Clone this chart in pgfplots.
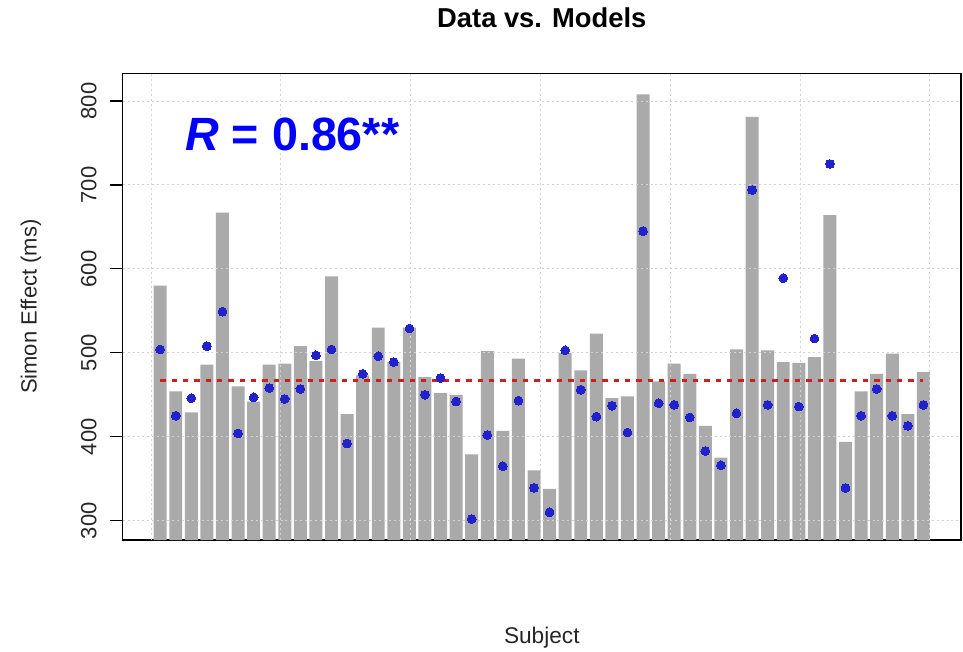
\documentclass[border=0pt]{standalone}
\usepackage{fontspec}
\setmainfont{Liberation Sans}
\usepackage{pgfplots}
\pgfplotsset{compat=1.18}
\usepackage{pgfplotstable}

\definecolor{barg}{HTML}{AAAAAA}
\definecolor{gridg}{HTML}{D3D3D3}
\definecolor{dotb}{HTML}{2222CC}
\definecolor{meanr}{HTML}{CC2020}

\pgfplotstableread{
x bar model
0.7 580 504
1.9 454 425
3.1 429 446
4.3 486 508
5.5 667 549
6.7 460 404
7.9 442 447
9.1 486 458
10.3 487 445
11.5 508 457
12.7 490 497
13.9 591 504
15.1 427 392
16.3 473 475
17.5 530 496
18.7 489 489
19.9 530 529
21.1 471 450
22.3 452 470
23.5 450 442
24.7 379 302
25.9 502 402
27.1 407 365
28.3 493 443
29.5 360 339
30.7 338 310
31.9 500 503
33.1 479 456
34.3 523 424
35.5 446 437
36.7 448 405
37.9 808 645
39.1 466 440
40.3 487 438
41.5 475 423
42.7 413 383
43.9 375 366
45.1 504 428
46.3 781 694
47.5 503 438
48.7 489 589
49.9 488 436
51.1 495 517
52.3 664 725
53.5 394 339
54.7 454 425
55.9 475 457
57.1 499 425
58.3 427 413
59.5 477 438
}\datatable

\begin{document}
\begin{tikzpicture}
\path[use as bounding box] (0,0) rectangle (722.25pt,488.25pt);
\begin{axis}[
  at={(92pt,83.25pt)}, anchor=south west,
  scale only axis, width=628.7pt, height=350pt,
  xmin=-2.19, xmax=62.39, ymin=277, ymax=833,
  xtick=\empty,
  ytick={300,400,500,600,700,800},
  ytick pos=left,
  tick align=outside,
  major tick length=9.4pt,
  axis line style={line width=1pt, black},
  ytick style={line width=0.9pt, black},
  /pgf/number format/assume math mode=true,
  yticklabel style={rotate=90, anchor=south, inner sep=0pt, yshift=10pt,
    font=\fontsize{16.5}{18}\selectfont, text=black!85},
  clip=true,
]
\addplot[ybar, bar width=1, fill=barg, draw=none] table[x=x, y=bar] {\datatable};
\pgfplotsinvokeforeach{300,400,500,600,700,800}{
  \draw[gridg, line width=0.75pt, dash pattern=on 1.5pt off 2.2pt] (axis cs:-2.19,#1) -- (axis cs:62.39,#1);
}
\pgfplotsinvokeforeach{0,10,20,30,40,50,60}{
  \draw[gridg, line width=0.75pt, dash pattern=on 1.5pt off 2.2pt] (axis cs:#1,277) -- (axis cs:#1,833);
}
\addplot[meanr, line width=2pt, dash pattern=on 4pt off 4.5pt] coordinates {(0.7,467) (59.5,467)};
\addplot[dotb, only marks, mark=*, mark size=3.3pt, mark options={fill=dotb, draw=dotb, line width=0pt}] table[x=x, y=model] {\datatable};
\end{axis}
\node[anchor=base, font=\bfseries\fontsize{20.5}{24}\selectfont] at (406.35pt,467.25pt) {Data vs. Models};
\node[rotate=90, anchor=base, font=\fontsize{16.5}{20}\selectfont, text=black!85] at (27.5pt,258.2pt) {Simon Effect (ms)};
\node[anchor=base, font=\fontsize{17}{20}\selectfont, text=black!85] at (406.35pt,6pt) {Subject};
\node[anchor=base west, inner sep=0pt, text=blue, font=\bfseries\fontsize{35}{40}\selectfont] at (138.75pt,375pt) {\textit{R} = 0.86**};
\end{tikzpicture}
\end{document}
